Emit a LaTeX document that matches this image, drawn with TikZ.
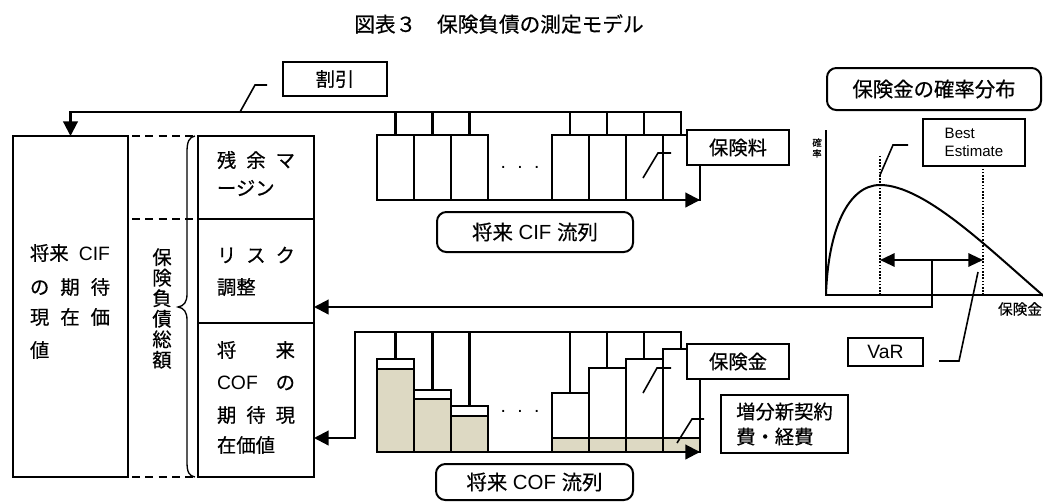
\documentclass[tikz,border=0pt]{standalone}
\usepackage{fontspec}
\setmainfont{Liberation Sans}
\newfontfamily\jp[FakeBold=0.5]{Noto Sans CJK JP}
\usetikzlibrary{arrows.meta,calc}
\definecolor{beige}{HTML}{DDD9C3}
\begin{document}
\begin{tikzpicture}[x=0.75pt,y=-0.75pt,
  box/.style={draw,line width=1.5pt,fill=white,inner sep=0pt,outer sep=0pt},
  rbox/.style={box,rounded corners=7pt},
  conn/.style={line width=1.6pt},
  arr/.style={-{Triangle[length=11pt,width=11pt]}},
  lead/.style={line width=1.2pt},
  txt/.style={inner sep=0pt,outer sep=0pt,anchor=west,font=\fontsize{14.5}{17}\selectfont},
  lbl/.style={inner sep=0pt,outer sep=0pt,font=\fontsize{14.5}{17}\selectfont},
  bar/.style={draw,line width=1.5pt,fill=white,inner sep=0pt,outer sep=0pt,anchor=south,minimum width=27.75pt},
  fillbar/.style={draw,line width=1.5pt,fill=beige},
  dotl/.style={line width=1.3pt,dash pattern=on 1.2pt off 1.2pt},
  dashl/.style={line width=1.3pt,dash pattern=on 6pt off 4pt},
]
\useasboundingbox (0,0) rectangle (1043,501);

% title
\node[lbl,font=\jp\fontsize{15.5}{18}\selectfont] (title) at (499,24) {図表３　保険負債の測定モデル};

% left main box and right column
\node[box,minimum width=86.25pt,minimum height=255.75pt] (L) at (70.5,306.5) {};
\node[box,minimum width=87pt,minimum height=62.25pt] (R1) at (256,177.5) {};
\node[box,minimum width=87pt,minimum height=78pt] (R2) at (256,271) {};
\node[box,minimum width=87pt,minimum height=115.5pt] (R3) at (256,400) {};

\node[txt] (l1) at (30,253) {\makebox[60pt][l]{{\jp 将来}\hfill CIF}};
\node[txt] (l2) at (30,287) {\jp\makebox[60pt][l]{の\hfill 期\hfill 待}};
\node[txt] (l3) at (30,317) {\jp\makebox[60pt][l]{現\hfill 在\hfill 価}};
\node[txt] (l4) at (30,350) {\jp 値};

\node[txt] (r1a) at (217,160) {\jp\makebox[58.5pt][l]{残\hfill 余\hfill マ}};
\node[txt] (r1b) at (217,188) {\jp ージン};
\node[txt] (r2a) at (217,255) {\jp\makebox[58.5pt][l]{リ\hfill ス\hfill ク}};
\node[txt] (r2b) at (217,287) {\jp 調整};
\node[txt] (r3a) at (217,350) {\jp\makebox[58.5pt][l]{将\hfill 来}};
\node[txt] (r3b) at (217,383) {\makebox[58.5pt][l]{COF\hfill{\jp の}}};
\node[txt] (r3c) at (217,415) {\jp\makebox[58.5pt][l]{期\hfill 待\hfill 現}};
\node[txt] (r3d) at (217,445) {\jp 在価値};

% dashed lines and brace
\draw[dashl] ([xshift=3pt]L.north east) -- ([xshift=-2pt]R1.north west);
\draw[dashl] ([xshift=3pt]L.east |- R1.south) -- ([xshift=-2pt]R1.south west);
\draw[dashl] ([xshift=3pt]L.south east) -- ([xshift=-2pt]R3.south west);
\draw[line width=1pt] (195,136) .. controls (189,137) and (187,142) .. (187,152) -- (187,294)
  .. controls (187,302) and (184,306) .. (178,307) .. controls (184,308) and (187,312) .. (187,320)
  -- (187,462) .. controls (187,472) and (189,476) .. (195,477);
\node[lbl,align=center,font=\jp\fontsize{14.5}{15.4}\selectfont] (vt) at (162,308.5) {保\\険\\負\\債\\総\\額};

% CIF bars
\node[bar,minimum height=48.75pt] (c1) at (395.5,200) {};
\node[bar,minimum height=48.75pt] (c2) at (432.5,200) {};
\node[bar,minimum height=48.75pt] (c3) at (469.5,200) {};
\node[bar,minimum height=48.75pt] (c4) at (570,200) {};
\node[bar,minimum height=48.75pt] (c5) at (607,200) {};
\node[bar,minimum height=48.75pt] (c6) at (644,200) {};
\node[bar,minimum height=48.75pt] (c7) at (681,200) {};
\node[lbl] (cifdots) at (520,167) {.\hspace{8.5pt}.\hspace{8.5pt}.};
\coordinate (topline) at (0,112);
\foreach \n in {c1,c2,c3,c4,c5,c6} \draw[conn] (\n.north) -- (\n.north |- topline);
\draw[conn,arr] (c7.north) -- (c7.north |- topline) -| (L.north);
\coordinate (cifs) at (377,200);
\coordinate (cife) at (700,200);
\draw[conn,arr] (cifs) -- (cife);

% discount label
\node[box,minimum width=78pt,minimum height=25.5pt,font=\jp\fontsize{14.5}{17}\selectfont] (disc) at (335,79) {割引};
\coordinate (discp) at (240,112);
\draw[lead] (discp) -- (255,85) -- (267,85);

\node[box,minimum width=76.5pt,minimum height=26.25pt,font=\jp\fontsize{14.5}{17}\selectfont] (prem) at (738,147.5) {保険料};
\draw[lead] (643,178) -- (658,153) -- (671,153);

\node[rbox,minimum width=147pt,minimum height=30pt,font=\fontsize{15.3}{17}\selectfont] (cifl) at (535,232) {{\jp 将来} CIF {\jp 流列}};

% COF bars
\node[bar,minimum height=69.75pt] (d1) at (395.5,452) {};
\node[bar,minimum height=46.5pt] (d2) at (432.5,452) {};
\node[bar,minimum height=34.5pt] (d3) at (469.5,452) {};
\node[bar,minimum height=44.25pt] (d4) at (570,452) {};
\node[bar,minimum height=63pt] (d5) at (607,452) {};
\node[bar,minimum height=69.75pt] (d6) at (644,452) {};
\node[bar,minimum height=77.25pt] (d7) at (681,452) {};
\draw[fillbar] (d1.south west |- 0,369) rectangle (d1.south east);
\draw[fillbar] (d2.south west |- 0,399) rectangle (d2.south east);
\draw[fillbar] (d3.south west |- 0,416) rectangle (d3.south east);
\foreach \n in {d4,d5,d6,d7} \draw[fillbar] (\n.south west |- 0,438) rectangle (\n.south east);
\node[lbl] (cofdots) at (520,411) {.\hspace{8.5pt}.\hspace{8.5pt}.};
\coordinate (cofcorner) at (355,332);
\coordinate (cofrow) at (0,438);
\foreach \n in {d1,d2,d3,d4,d5,d6} \draw[conn] (\n.north) -- (\n.north |- cofcorner);
\draw[conn,arr] (d7.north) |- (cofcorner) |- (R3.east |- cofrow);
\coordinate (cofs) at (377,452);
\coordinate (cofe) at (700,452);
\draw[conn,arr] (cofs) -- (cofe);

\node[box,minimum width=76.5pt,minimum height=26.25pt,font=\jp\fontsize{14.5}{17}\selectfont] (claim) at (738,361.5) {保険金};
\draw[lead] (643,393) -- (657,368) -- (671,368);
\node[box,minimum width=95.25pt,minimum height=43.5pt,align=left,font=\jp\fontsize{14.5}{18.75}\selectfont] (acq) at (784.5,424) {増分新契約\\費・経費};
\draw[lead] (677,443) -- (692,419) -- (704,419);

\node[rbox,minimum width=147.75pt,minimum height=27pt,font=\fontsize{15.3}{17}\selectfont] (cofl) at (534.5,482) {{\jp 将来} COF {\jp 流列}};

% distribution chart
\node[rbox,minimum width=160.5pt,minimum height=31.5pt,font=\jp\fontsize{15.3}{17}\selectfont] (distl) at (934,89) {保険金の確率分布};
\coordinate (origin) at (826,295);
\draw[line width=1.5pt] (826,130) -- (origin) -- (1043,295);
\node[lbl,align=center,font=\jp\fontsize{7}{8}\selectfont] (kr) at (817,148) {確\\率};
\node[lbl,anchor=east,font=\jp\fontsize{11}{13}\selectfont] (axl) at (1042,309) {保険金};
\draw[line width=1.5pt] (origin) .. controls (828,230) and (848,185) .. (880,185)
  .. controls (925,185) and (990,250) .. (1046,298);
\coordinate (be) at (880,295);
\coordinate (var) at (983,295);
\draw[dotl] (be) -- (880,155);
\draw[dotl] (var) -- (983,166);
\node[box,minimum width=76.5pt,minimum height=35.25pt,align=left,font=\fontsize{11.3}{13.5}\selectfont] (best) at (974,142.5) {Best\\Estimate};
\draw[lead] (880,175) -- (893,145) -- (908,145);
\coordinate (vmid) at (932,260);
\draw[conn,{Triangle[length=11pt,width=10pt]}-{Triangle[length=11pt,width=10pt]}] (be |- vmid) -- (var |- vmid);
\coordinate (riskrow) at (0,307);
\draw[conn,arr] (vmid) |- (R2.east |- riskrow);

\node[box,minimum width=56.25pt,minimum height=21pt,font=\fontsize{14.5}{17}\selectfont] (varl) at (885.5,352) {VaR};
\draw[lead] (939,361) -- (959,361) -- (978,272);
\end{tikzpicture}
\end{document}
